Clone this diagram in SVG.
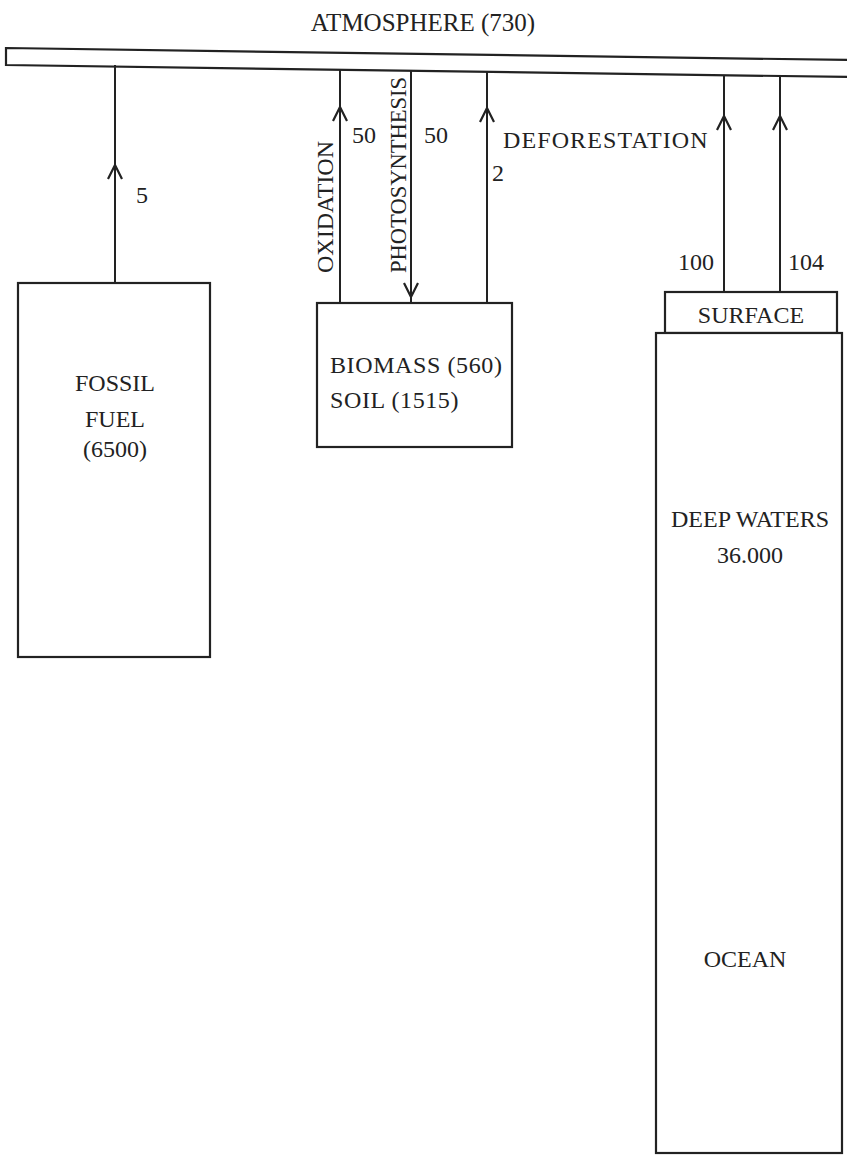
<svg xmlns="http://www.w3.org/2000/svg" width="847" height="1156" viewBox="0 0 847 1156">
<style>
.box{fill:#fff;stroke:#222;stroke-width:2.2}
.ln{fill:none;stroke:#222;stroke-width:2}
.t{font-family:"Liberation Serif","Times New Roman",serif;font-size:24px;fill:#222}
.tc{text-anchor:middle}
.big{font-size:25px}
</style>
<defs>
<marker id="chev" markerUnits="userSpaceOnUse" markerWidth="20" markerHeight="20" viewBox="-18 -10 20 20" refX="0" refY="0" orient="auto">
<path d="M-14,-7 L0,0 L-14,7" fill="none" stroke="#222" stroke-width="2.2"/>
</marker>
</defs>
<g id="atmosphere">
<polygon class="box" points="6,48 850,60 850,77 6,65"/>
<text class="t big tc" x="423" y="31">ATMOSPHERE (730)</text>
</g>
<g id="fossil">
<rect class="box" x="18" y="283" width="192" height="374"/>
<text class="t tc" x="115" y="391">FOSSIL</text>
<text class="t tc" x="115" y="427">FUEL</text>
<text class="t tc" x="115" y="457">(6500)</text>
</g>
<g id="biomass">
<rect class="box" x="317" y="303" width="195" height="144"/>
<text class="t" x="330" y="373" style="letter-spacing:0.6px">BIOMASS (560)</text>
<text class="t" x="330" y="408" style="letter-spacing:0.6px">SOIL (1515)</text>
</g>
<g id="surface">
<rect class="box" x="665" y="292" width="172" height="41"/>
<text class="t tc" x="751" y="323">SURFACE</text>
</g>
<g id="ocean">
<rect class="box" x="656" y="333" width="186" height="820"/>
<text class="t tc" x="750" y="527">DEEP WATERS</text>
<text class="t tc" x="750" y="563">36.000</text>
<text class="t tc" x="745" y="967">OCEAN</text>
</g>
<g id="connectors">
<path class="ln" d="M115,283 L115,165 L115,65" marker-mid="url(#chev)"/>
<path class="ln" d="M340,303 L340,107 L340,69" marker-mid="url(#chev)"/>
<path class="ln" d="M411,70 L411,297 L411,303" marker-mid="url(#chev)"/>
<path class="ln" d="M487,303 L487,108 L487,71" marker-mid="url(#chev)"/>
<path class="ln" d="M724,292 L724,116 L724,75" marker-mid="url(#chev)"/>
<path class="ln" d="M780,292 L780,116 L780,76" marker-mid="url(#chev)"/>
</g>
<g id="labels">
<text class="t" x="136" y="203">5</text>
<text class="t" x="352" y="143">50</text>
<text class="t" x="424" y="143">50</text>
<text class="t" x="492" y="181">2</text>
<text class="t" x="503" y="148" style="letter-spacing:1.1px">DEFORESTATION</text>
<text class="t" x="678" y="270">100</text>
<text class="t" x="788" y="270">104</text>
<text class="t" transform="translate(333,273) rotate(-90)">OXIDATION</text>
<text class="t" transform="translate(406,273) rotate(-90)" textLength="196" lengthAdjust="spacingAndGlyphs">PHOTOSYNTHESIS</text>
</g>
</svg>
